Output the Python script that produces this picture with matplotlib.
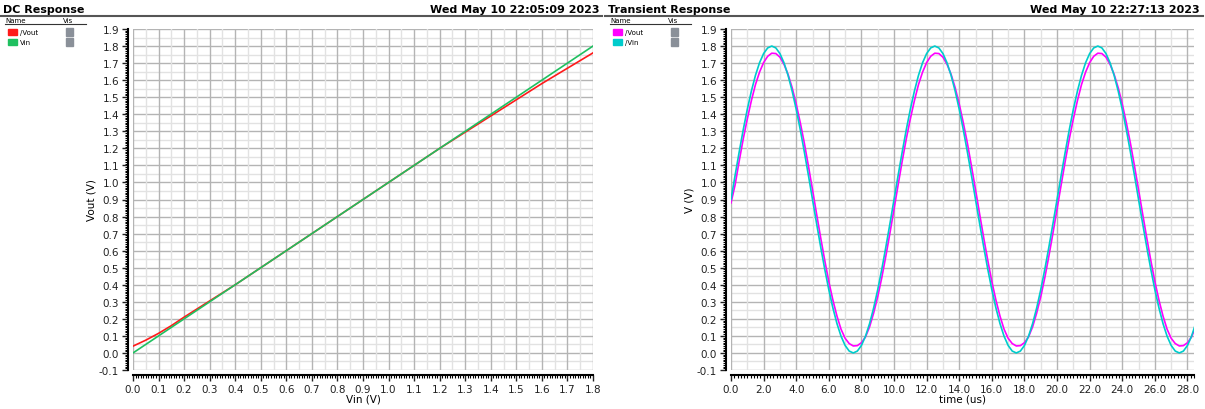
import numpy as np
import matplotlib
matplotlib.use('Agg')
import matplotlib.pyplot as plt
from matplotlib.ticker import MultipleLocator, FormatStrFormatter
from matplotlib.lines import Line2D
from matplotlib.patches import Rectangle

# DC sweep: Vin (V) and measured Vout (V)
dc_vin = [0.0, 0.05, 0.1, 0.15, 0.2, 0.3, 0.4, 0.5, 0.6, 0.7, 0.8, 0.9,
          1.0, 1.1, 1.2, 1.3, 1.4, 1.5, 1.6, 1.65, 1.7, 1.75, 1.8]
dc_vout = [0.04, 0.075, 0.115, 0.16, 0.21, 0.305, 0.40, 0.50, 0.60, 0.70, 0.80, 0.90,
           1.00, 1.10, 1.20, 1.295, 1.39, 1.485, 1.58, 1.625, 1.67, 1.715, 1.76]

# transient: time (us) every 0.25 us, Vin and Vout (V)
tr_time = [i * 0.25 for i in range(115)]
tr_vin = [0.900, 1.041, 1.178, 1.309, 1.429, 1.536, 1.628, 1.702, 1.756, 1.789,
          1.800, 1.789, 1.756, 1.702, 1.628, 1.536, 1.429, 1.309, 1.178, 1.041,
          0.900, 0.759, 0.622, 0.491, 0.371, 0.264, 0.172, 0.098, 0.044, 0.011,
          0.000, 0.011, 0.044, 0.098, 0.172, 0.264, 0.371, 0.491, 0.622, 0.759,
          0.900, 1.041, 1.178, 1.309, 1.429, 1.536, 1.628, 1.702, 1.756, 1.789,
          1.800, 1.789, 1.756, 1.702, 1.628, 1.536, 1.429, 1.309, 1.178, 1.041,
          0.900, 0.759, 0.622, 0.491, 0.371, 0.264, 0.172, 0.098, 0.044, 0.011,
          0.000, 0.011, 0.044, 0.098, 0.172, 0.264, 0.371, 0.491, 0.622, 0.759,
          0.900, 1.041, 1.178, 1.309, 1.429, 1.536, 1.628, 1.702, 1.756, 1.789,
          1.800, 1.789, 1.756, 1.702, 1.628, 1.536, 1.429, 1.309, 1.178, 1.041,
          0.900, 0.759, 0.622, 0.491, 0.371, 0.264, 0.172, 0.098, 0.044, 0.011,
          0.000, 0.011, 0.044, 0.098, 0.172]
tr_vout = [0.880, 0.985, 1.124, 1.255, 1.373, 1.480, 1.574, 1.647, 1.703, 1.740,
           1.758, 1.756, 1.735, 1.693, 1.634, 1.556, 1.460, 1.350, 1.230, 1.096,
           0.957, 0.815, 0.676, 0.543, 0.418, 0.310, 0.216, 0.139, 0.086, 0.055,
           0.041, 0.043, 0.060, 0.094, 0.153, 0.234, 0.330, 0.442, 0.569, 0.704,
           0.844, 0.985, 1.124, 1.255, 1.373, 1.480, 1.574, 1.647, 1.703, 1.740,
           1.758, 1.756, 1.735, 1.693, 1.634, 1.556, 1.460, 1.350, 1.230, 1.096,
           0.957, 0.815, 0.676, 0.543, 0.418, 0.310, 0.216, 0.139, 0.086, 0.055,
           0.041, 0.043, 0.060, 0.094, 0.153, 0.234, 0.330, 0.442, 0.569, 0.704,
           0.844, 0.985, 1.124, 1.255, 1.373, 1.480, 1.574, 1.647, 1.703, 1.740,
           1.758, 1.756, 1.735, 1.693, 1.634, 1.556, 1.460, 1.350, 1.230, 1.096,
           0.957, 0.815, 0.676, 0.543, 0.418, 0.310, 0.216, 0.139, 0.086, 0.055,
           0.041, 0.043, 0.060, 0.094, 0.153]

W, H = 1205, 410
fig = plt.figure(figsize=(W / 100, H / 100), dpi=100)
plt.rcParams['font.family'] = ['DejaVu Sans']

RED, GREEN = '#ff1a1a', '#1fc060'
MAG, CYAN = '#ff00ff', '#00cccc'
PT = 72 / 100  # points per pixel


def px(x, y):
    return x / W, 1 - y / H


def style_axes(ax, xmaj, xmin):
    ax.set_ylim(-0.1, 1.9)
    ax.yaxis.set_major_locator(MultipleLocator(0.1))
    ax.yaxis.set_minor_locator(MultipleLocator(0.01))
    ax.yaxis.set_major_formatter(FormatStrFormatter('%.1f'))
    ax.xaxis.set_major_locator(MultipleLocator(xmaj))
    ax.xaxis.set_minor_locator(MultipleLocator(xmin))
    ax.xaxis.set_major_formatter(FormatStrFormatter('%.1f'))
    for s in ['top', 'right']:
        ax.spines[s].set_visible(False)
    for s in ['left', 'bottom']:
        ax.spines[s].set_position(('outward', 5 * PT))
        ax.spines[s].set_linewidth(1.5)
    ax.tick_params(which='major', length=6 * PT, width=1.0, labelsize=7.5,
                   colors='#222222', pad=2)
    ax.tick_params(which='minor', length=3 * PT, width=0.8)
    # grid: dark majors, light half-steps
    for v in np.arange(-0.1, 1.91, 0.1):
        ax.axhline(v, color='#b4b4b4', lw=1.0, zorder=0)
        ax.axhline(v + 0.05, color='#e2e2e2', lw=1.0, zorder=0)


def header(x0, x1, title, date, names, colors):
    fig.text(*px(x0 + 3, 10), title, fontsize=8, fontweight='bold', va='center', ha='left')
    fig.text(*px(x1 - 3, 10), date, fontsize=8, fontweight='bold', va='center', ha='right')
    fig.add_artist(Line2D([x0 / W, x1 / W], [1 - 16.5 / H] * 2, color='#555555', lw=1.5))
    fig.text(*px(x0 + 5, 21), 'Name', fontsize=5, va='center')
    fig.text(*px(x0 + 63, 21), 'Vis', fontsize=5, va='center')
    fig.add_artist(Line2D([(x0 + 5) / W, (x0 + 86) / W], [1 - 25 / H] * 2, color='#333333', lw=0.8))
    for i, (n, c) in enumerate(zip(names, colors)):
        y = 33 + i * 10
        fig.add_artist(Rectangle(px(x0 + 8, y + 3), 9 / W, 6 / H, color=c))
        fig.text(*px(x0 + 20, y), n, fontsize=5, va='center')
        fig.add_artist(Rectangle(px(x0 + 66, y + 4), 7 / W, 8 / H, color='#8a9099'))


# DC response
ax1 = fig.add_axes([133 / W, 39 / H, 460 / W, 341 / H])
style_axes(ax1, 0.1, 0.01)
ax1.set_xlim(0, 1.8)
for v in np.arange(0, 1.81, 0.1):
    ax1.axvline(v, color='#b4b4b4', lw=1.0, zorder=0)
    ax1.axvline(v + 0.05, color='#e2e2e2', lw=1.0, zorder=0)
ax1.plot(dc_vin, dc_vout, color=RED, lw=1.2)
ax1.plot(dc_vin, dc_vin, color=GREEN, lw=1.2)
ax1.set_xlabel('Vin (V)', fontsize=7.5, labelpad=0)
ax1.set_ylabel('Vout (V)', fontsize=7.5, labelpad=2)
header(0, 602, 'DC Response', 'Wed May 10 22:05:09 2023', ['/Vout', 'Vin'], [RED, GREEN])

# transient response
ax2 = fig.add_axes([731 / W, 39 / H, 463 / W, 341 / H])
style_axes(ax2, 2.0, 0.2)
ax2.set_xlim(0, 28.4)
for v in np.arange(0, 28.5, 2.0):
    ax2.axvline(v, color='#b4b4b4', lw=1.0, zorder=0)
    ax2.axvline(v + 1.0, color='#e2e2e2', lw=1.0, zorder=0)
ax2.plot(tr_time, tr_vout, color=MAG, lw=1.2)
ax2.plot(tr_time, tr_vin, color=CYAN, lw=1.2)
ax2.set_xlabel('time (us)', fontsize=7.5, labelpad=0)
ax2.set_ylabel('V (V)', fontsize=7.5, labelpad=2)
header(605, 1203, 'Transient Response', 'Wed May 10 22:27:13 2023', ['/Vout', '/Vin'], [MAG, CYAN])

fig.savefig('out.png', dpi=100)
